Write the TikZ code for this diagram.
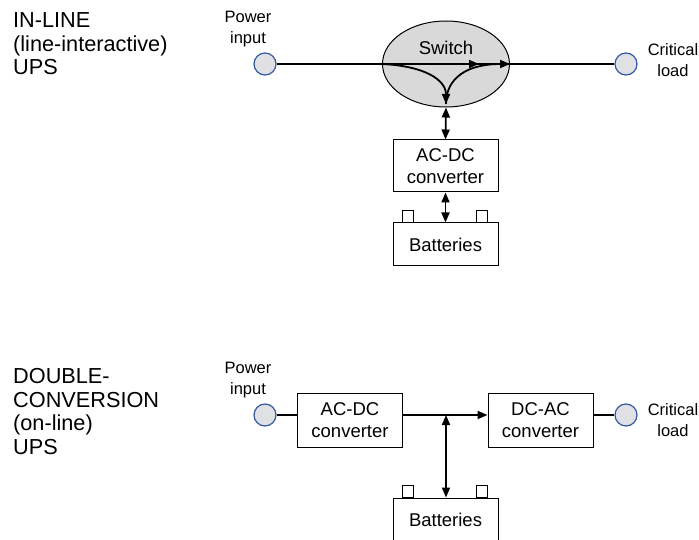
\documentclass[tikz,border=0pt]{standalone}
\usepackage{fontspec}
\setmainfont{Liberation Sans}
\usetikzlibrary{arrows.meta,shapes.geometric}

\definecolor{pinblue}{RGB}{52,89,160}
\definecolor{pingray}{RGB}{224,225,229}
\definecolor{switchgray}{RGB}{217,217,217}

\tikzset{
  pin/.style={circle, draw=pinblue, fill=pingray, line width=1.2pt, minimum size=22pt, inner sep=0pt},
  unit/.style={draw, line width=1pt, fill=white, minimum width=105pt, minimum height=52pt,
    inner sep=0pt, align=center, font=\fontsize{18.5}{22.5}\selectfont},
  battery/.style={unit, minimum height=43pt},
  switchbody/.style={ellipse, draw, fill=switchgray, line width=1pt, minimum width=127pt,
    minimum height=86pt, inner sep=0pt},
  wire/.style={line width=1.4pt},
  flow/.style={line width=1.8pt, -{Triangle[length=10pt,width=8pt]}},
  bothflow/.style={line width=1.8pt, {Triangle[length=10pt,width=8pt]}-{Triangle[length=10pt,width=8pt]}},
  tag/.style={align=center, inner sep=0pt, font=\fontsize{16.5}{20.5}\selectfont},
  title/.style={align=left, anchor=north west, inner sep=0pt, font=\fontsize{21.7}{23.5}\selectfont},
}

\begin{document}
\begin{tikzpicture}[x=1pt, y=-1pt]
  \useasboundingbox (0,0) rectangle (699,540);

  % line-interactive UPS
  \node[title] (inlinetitle) at (13,12.5) {IN-LINE\\(line-interactive)\\UPS};
  \node[tag] (inAtag) at (248,29) {Power\\input};
  \node[tag] (outAtag) at (673,60) {Critical\\load};
  \node[pin] (inA) at (265,64) {};
  \node[pin] (outA) at (626,64) {};
  \node[switchbody] (sw) at (446,64) {};
  \node[font=\fontsize{18.5}{22}\selectfont] (swtag) at (446,48) {Switch};

  \coordinate (swmid) at (479,64);
  \coordinate (swlow) at (446,104);
  \draw[wire] (inA) -- (outA);
  \draw[flow] (inA) -- (swmid);
  \draw[flow] (sw.west) .. controls (425,66) and (446,80) .. (swlow);
  \draw[flow] (swlow) .. controls (446,78) and (467,64) .. (sw.east);

  \node[unit] (acdcA) at (445.5,166) {AC-DC\\converter};
  \node[battery] (batA) at (445.5,244.5) {Batteries};
  \foreach \dx in {10,84}
    \draw[line width=1pt, fill=white] ([xshift=\dx pt]batA.north west) rectangle ++(11,-12);
  \draw[bothflow] (sw.south) -- (acdcA.north);
  \draw[bothflow] (acdcA) -- (batA);

  % double-conversion UPS
  \node[title] (dctitle) at (13,368.5) {DOUBLE-\\CONVERSION\\(on-line)\\UPS};
  \node[tag] (inBtag) at (248,380) {Power\\input};
  \node[tag] (outBtag) at (673,420) {Critical\\load};
  \node[pin] (inB) at (265,415) {};
  \node[pin] (outB) at (626,415) {};
  \node[unit, minimum height=54pt] (acdcB) at (350,420) {AC-DC\\converter};
  \node[unit, minimum height=54pt] (dcacB) at (540.5,420) {DC-AC\\converter};
  \node[battery] (batB) at (445.5,519.5) {Batteries};
  \foreach \dx in {10,84}
    \draw[line width=1pt, fill=white] ([xshift=\dx pt]batB.north west) rectangle ++(11,-12);

  \coordinate (dclink) at (446,415);
  \draw[wire] (inB) -- (inB -| acdcB.west);
  \draw[flow] (inB -| acdcB.east) -- (inB -| dcacB.west);
  \draw[wire] (outB -| dcacB.east) -- (outB);
  \draw[bothflow] (dclink) -- (batB.north -| dclink);
\end{tikzpicture}
\end{document}
